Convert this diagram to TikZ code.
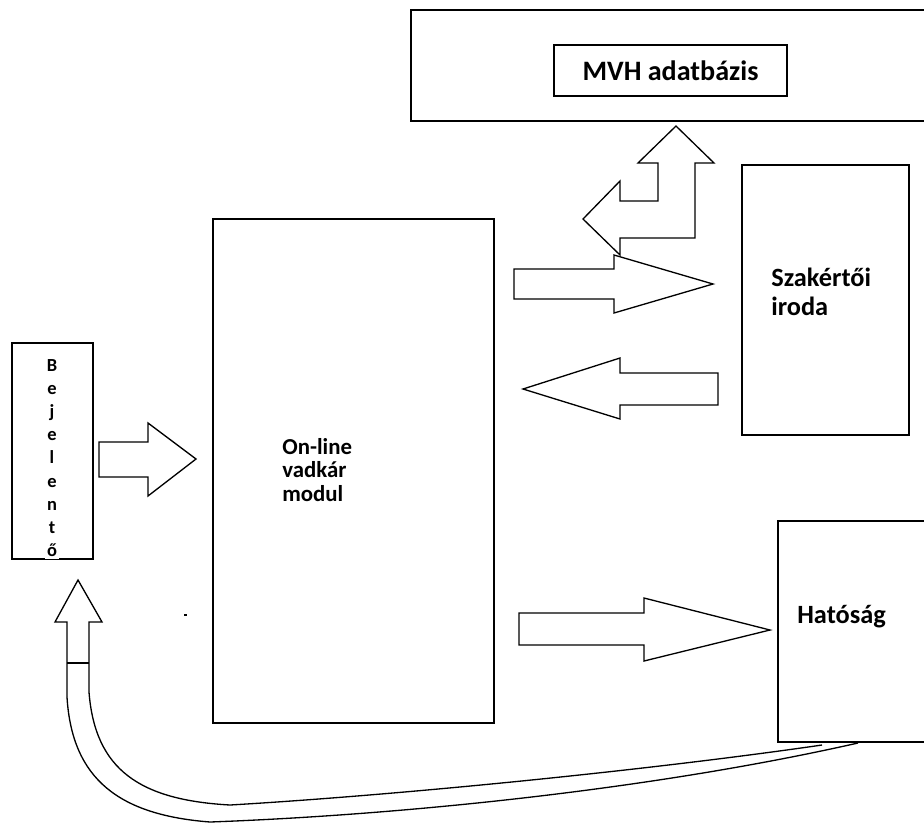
\documentclass[tikz,border=0pt]{standalone}
\usepackage{fontspec}
\setmainfont{Carlito}
\usetikzlibrary{positioning}

\begin{document}
\begin{tikzpicture}[x=0.02cm,y=-0.02cm,
    box/.style={draw,line width=0.9pt,inner sep=0pt},
    boxtext/.style={font=\bfseries\fontsize{15}{16.5}\selectfont,align=left,anchor=west,inner sep=0pt},
    blockarrow/.style={draw,line width=0.75pt,line join=miter}]
        \clip (0,0) rectangle (924,823);

        % boxes
        \draw[line width=0.9pt] (940,10) -- (411,10) -- (411,121) -- (940,121);
        \node[box,minimum width=4.66cm,minimum height=1.02cm,font=\bfseries\fontsize{16}{19}\selectfont] (mvh) at (670.5,70.5) {MVH adatbázis};
        \node[box,minimum width=5.62cm,minimum height=10.08cm] (modul) at (353.5,471) {};
        \node[boxtext,font=\bfseries\fontsize{13}{13.5}\selectfont] (modultext) at (282,470) {On-line\\vadkár\\modul};
        \node[box,minimum width=3.34cm,minimum height=5.4cm] (iroda) at (825.5,300) {};
        \node[boxtext] (irodatext) at (771,292) {Szakértői\\iroda};
        \node[box,minimum width=3.44cm,minimum height=4.42cm] (hatosag) at (864,631.5) {};
        \node[boxtext] (hatosagtext) at (797,617) {Hatóság};
        \node[box,minimum width=1.62cm,minimum height=4.32cm] (bejelento) at (52.5,451) {};
        \node[fill=white,inner sep=1pt,align=center,font=\bfseries\fontsize{10.5}{13.2}\selectfont] (bejelentotext) at (52,458) {B\\e\\j\\e\\l\\e\\n\\t\\ő};

        % block arrows
        \draw[blockarrow] (99,442) -- (148,442) -- (148,423) -- (196,459) -- (148,496) -- (148,477) -- (99,477) -- cycle;
        \draw[blockarrow] (514,269) -- (614,269) -- (614,255) -- (713,284) -- (614,313) -- (614,299) -- (514,299) -- cycle;
        \draw[blockarrow] (718,373) -- (620,373) -- (620,358) -- (523,389) -- (620,419) -- (620,405) -- (718,405) -- cycle;
        \draw[blockarrow] (519,613) -- (644,613) -- (644,598) -- (770,630) -- (644,661) -- (644,645) -- (519,645) -- cycle;
        \draw[blockarrow] (620,181) -- (620,201) -- (658,201) -- (658,163) -- (638,163) -- (676,126) -- (714,163)
            -- (695,163) -- (695,238) -- (620,238) -- (620,255) -- (583,219) -- cycle;

        % curved arrow back to the reporter
        \draw[blockarrow] (67,697) -- (67,622) -- (55,622) -- (78,580) -- (102,622) -- (89,622) -- (89,692);
        \draw[line width=0.75pt] (67,663) -- (89,663);
        \draw[line width=0.75pt] (67,697) .. controls (72,780) and (120,815) .. (210,822)
            .. controls (400,815) and (650,790) .. (858,743);
        \draw[line width=0.75pt] (89,692) .. controls (95,770) and (140,800) .. (230,805)
            .. controls (400,795) and (650,770) .. (822,745);

        \fill (184,613.5) rectangle (187,615.5);
\end{tikzpicture}
\end{document}
